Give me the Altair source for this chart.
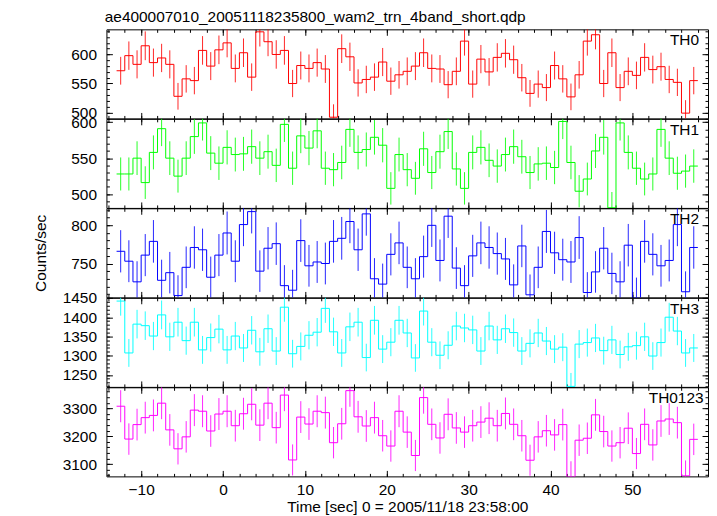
import altair as alt
import numpy as np
import pandas as pd

FONT = "Liberation Sans"
FS = 15.5

title_text = "ae400007010_20051118235800_wam2_trn_4band_short.qdp"
x_title = "Time [sec] 0 = 2005/11/18 23:58:00"
y_title = "Counts/sec"

# 1-second bins, centres from -12.5 s to 57.5 s
bin_centers = [-12.5 + i for i in range(71)]

th0 = [572, 598, 583, 615, 586, 594, 583, 528, 558, 555, 607, 580, 608,
       620, 576, 603, 561, 639, 622, 600, 607, 550, 581, 576, 586, 575,
       492, 610, 596, 551, 557, 561, 587, 554, 565, 571, 580, 603, 576,
       575, 548, 571, 623, 549, 592, 570, 595, 602, 591, 560, 533, 549,
       543, 581, 558, 527, 565, 623, 634, 550, 603, 543, 571, 564, 595,
       574, 579, 557, 552, 499, 555]
th1 = [528, 528, 550, 516, 558, 591, 550, 525, 550, 580, 599, 557, 543,
       565, 555, 556, 566, 550, 559, 540, 597, 536, 581, 564, 588, 536,
       534, 544, 590, 558, 562, 579, 568, 508, 555, 534, 522, 563, 530,
       559, 587, 535, 508, 558, 565, 547, 539, 555, 566, 552, 530, 542,
       543, 537, 601, 544, 504, 521, 560, 579, 481, 599, 558, 536, 521,
       528, 590, 550, 529, 532, 539]
th2 = [766, 753, 726, 761, 779, 728, 738, 708, 745, 771, 768, 732, 761,
       790, 753, 801, 818, 740, 770, 776, 721, 715, 780, 747, 752, 750,
       779, 783, 805, 768, 815, 730, 723, 762, 777, 745, 730, 759, 800,
       754, 812, 744, 721, 760, 777, 771, 763, 756, 722, 773, 709, 745,
       792, 764, 755, 752, 784, 712, 739, 770, 737, 726, 774, 705, 779,
       762, 747, 754, 801, 713, 771]
th3 = [1442, 1307, 1382, 1378, 1351, 1406, 1349, 1387, 1339, 1387, 1315,
       1347, 1369, 1315, 1351, 1320, 1366, 1310, 1370, 1312, 1426, 1305,
       1324, 1353, 1361, 1423, 1362, 1307, 1375, 1387, 1295, 1392, 1317,
       1335, 1392, 1359, 1294, 1416, 1335, 1301, 1327, 1377, 1372, 1367,
       1312, 1377, 1341, 1370, 1360, 1312, 1332, 1359, 1338, 1317, 1322,
       1220, 1330, 1334, 1346, 1313, 1341, 1303, 1323, 1326, 1349, 1299,
       1334, 1400, 1364, 1307, 1320]
th0123 = [3308, 3190, 3242, 3267, 3275, 3319, 3223, 3155, 3198, 3294, 3290,
          3219, 3280, 3290, 3238, 3281, 3315, 3240, 3319, 3231, 3348, 3115,
          3269, 3244, 3290, 3285, 3177, 3245, 3364, 3270, 3237, 3267, 3202,
          3165, 3290, 3215, 3131, 3339, 3243, 3194, 3279, 3230, 3215, 3238,
          3251, 3265, 3238, 3282, 3243, 3202, 3114, 3198, 3220, 3205, 3242,
          3055, 3186, 3193, 3277, 3217, 3165, 3177, 3229, 3138, 3243, 3169,
          3255, 3262, 3249, 3058, 3189]

panels = [
    dict(name="TH0", values=th0, color="#ff0000", domain=[489.9, 643.3],
         major=[500, 550, 600], minor=(490, 641, 10), label_x=596),
    dict(name="TH1", values=th1, color="#00ff00", domain=[480.8, 604.7],
         major=[500, 550, 600], minor=(490, 601, 10), label_x=596),
    dict(name="TH2", values=th2, color="#0000ff", domain=[705.6, 822.3],
         major=[750, 800], minor=(710, 821, 10), label_x=596),
    dict(name="TH3", values=th3, color="#00ffff", domain=[1218.7, 1450.5],
         major=[1250, 1300, 1350, 1400, 1450], minor=(1220, 1451, 10), label_x=596),
    dict(name="TH0123", values=th0123, color="#ff00ff", domain=[3056, 3376],
         major=[3100, 3200, 3300], minor=(3060, 3361, 20), label_x=600.5),
]

W, H = 605, 89.6
XDOM = [-14.24, 59.24]
x_major = [-10, 0, 10, 20, 30, 40, 50]
x_minor = [float(v) for v in np.arange(-14, 59, 2)]

TXT = dict(labelFont=FONT, labelFontSize=FS, labelColor="black",
           titleFont=FONT, titleFontSize=FS, titleFontWeight="normal",
           titleColor="black")


def make_panel(idx, p):
    first = idx == 0
    last = idx == len(panels) - 1
    c = p["color"]
    df = pd.DataFrame({"t": bin_centers, "rate": p["values"]})
    xs = alt.Scale(domain=XDOM, nice=False, zero=False)
    ys = alt.Scale(domain=p["domain"], nice=False, zero=False)
    y_minor = [float(v) for v in np.arange(*p["minor"])]
    common = dict(domain=False, grid=False, tickColor="black", tickWidth=1, **TXT)

    axb_major = alt.Axis(orient="bottom", values=x_major, tickSize=6, offset=-6,
                         labels=last, labelPadding=6, titlePadding=2,
                         title=x_title if last else None, **common)
    axb_minor = alt.Axis(orient="bottom", values=x_minor, tickSize=3, offset=-3,
                         labels=False, title=None, **common)
    axt_major = alt.Axis(orient="top", values=x_major, tickSize=6, offset=-6,
                         labels=False, title=None, **common)
    axt_minor = alt.Axis(orient="top", values=x_minor, tickSize=3, offset=-3,
                         labels=False, title=None, **common)
    ayl_major = alt.Axis(orient="left", values=p["major"], tickSize=6, offset=-6,
                         labels=True, labelPadding=10, titlePadding=22, format="d",
                         title=y_title if p["name"] == "TH2" else None, **common)
    ayl_minor = alt.Axis(orient="left", values=y_minor, tickSize=3, offset=-3,
                         labels=False, title=None, **common)
    ayr_major = alt.Axis(orient="right", values=p["major"], tickSize=6, offset=-6,
                         labels=False, title=None, **common)
    ayr_minor = alt.Axis(orient="right", values=y_minor, tickSize=3, offset=-3,
                         labels=False, title=None, **common)

    base = alt.Chart(df).transform_calculate(
        start="datum.t - 0.5",
        end="datum.t + 0.5",
        lo="datum.rate - sqrt(datum.rate)",
        hi="datum.rate + sqrt(datum.rate)",
    )
    steps = base.mark_rule(color=c, strokeWidth=1, clip=True).encode(
        x=alt.X("start:Q", scale=xs, axis=axb_major),
        x2="end:Q",
        y=alt.Y("rate:Q", scale=ys, axis=ayl_major),
    )
    risers = base.transform_window(
        prev="lag(rate)", sort=[alt.SortField("t", order="ascending")]
    ).transform_filter("isValid(datum.prev)").mark_rule(
        color=c, strokeWidth=1, clip=True
    ).encode(
        x=alt.X("start:Q", scale=xs, axis=axb_minor),
        y=alt.Y("prev:Q", scale=ys, axis=ayl_minor),
        y2="rate:Q",
    )
    errs = base.mark_rule(color=c, strokeWidth=1, clip=True, opacity=0.85).encode(
        x=alt.X("t:Q", scale=xs, axis=axt_major),
        y=alt.Y("lo:Q", scale=ys, axis=ayr_major),
        y2="hi:Q",
    )
    ghost = base.mark_point(opacity=0, size=1, clip=True).encode(
        x=alt.X("t:Q", scale=xs, axis=axt_minor),
        y=alt.Y("rate:Q", scale=ys, axis=ayr_minor),
    )
    label = alt.Chart(pd.DataFrame({"label": [p["name"]]})).mark_text(
        align="right", baseline="alphabetic", font=FONT, fontSize=FS, color="black"
    ).encode(text="label:N", x=alt.value(p["label_x"]), y=alt.value(16))

    layers = [steps, risers, errs, ghost, label]
    if first:
        head = alt.Chart(pd.DataFrame({"label": [title_text]})).mark_text(
            align="left", baseline="alphabetic", font=FONT, fontSize=FS,
            color="black"
        ).encode(text="label:N", x=alt.value(-1.7), y=alt.value(-7.5))
        layers.append(head)

    layer = alt.layer(*layers).resolve_axis(
        x="independent", y="independent"
    ).properties(width=W, height=H)
    return layer


charts = [make_panel(i, p) for i, p in enumerate(panels)]

chart = alt.vconcat(*charts, spacing=0, bounds="flush").properties(
    padding={"left": 25, "top": 0, "right": 0, "bottom": 0}
).configure_view(
    stroke="black", strokeWidth=1
).configure_axis(**TXT)

chart.save("out.html", embed_options={"renderer": "svg", "actions": False})
